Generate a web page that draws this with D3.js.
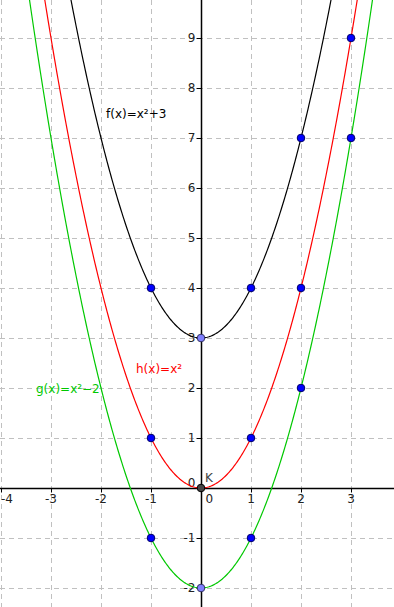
<!DOCTYPE html>
<html>
<head>
<meta charset="utf-8">
<script src="https://cdn.jsdelivr.net/npm/d3@7"></script>
<style>
  body { margin: 0; background: #fff; }
  svg { display: block; font-family: "DejaVu Sans", sans-serif; }
</style>
</head>
<body>
<div id="chart"></div>
<script>
// chart data
var xTicks = [-4, -3, -2, -1, 1, 2, 3];
var yTicks = [-2, -1, 1, 2, 3, 4, 5, 6, 7, 8, 9];
var funcNames = ["f(x)=x\u00b2+3", "h(x)=x\u00b2", "g(x)=x\u00b2\u22122"];
var funcShifts = [3, 0, -2];
var funcColors = ["#000000", "#ff0000", "#00c800"];
// labelled points on the curves
var fPoints = [[-1, 4], [1, 4], [2, 7]];
var hPoints = [[-1, 1], [1, 1], [2, 4], [3, 9]];
var gPoints = [[-1, -1], [1, -1], [2, 2], [3, 7]];
var vertexPoints = [[0, 3], [0, -2]];
var originPoint = [0, 0];
// where the function names sit (graph units)
var labelPos = [[-1.9, 7.4], [-1.3, 2.3], [-3.3, 1.9]];

var svgWidth = 394;
var svgHeight = 607;

var svg = d3.select("#chart")
    .append("svg")
    .attr("width", svgWidth)
    .attr("height", svgHeight);

// 50 px per unit, origin at (201, 488)
var x = d3.scaleLinear()
    .domain([-201 / 50, (svgWidth - 201) / 50])
    .range([0, svgWidth]);
var y = d3.scaleLinear()
    .domain([-(svgHeight - 488) / 50, 488 / 50])
    .range([svgHeight, 0]);

// grid
var grid = svg.append("g")
    .attr("stroke", "#c0c0c0")
    .attr("stroke-width", 1)
    .attr("stroke-dasharray", "5,4");
grid.selectAll("line.vx")
    .data(xTicks.concat([0]))
    .enter()
    .append("line")
    .attr("x1", d => Math.round(x(d)) + 0.5)
    .attr("x2", d => Math.round(x(d)) + 0.5)
    .attr("y1", 0)
    .attr("y2", svgHeight);
grid.selectAll("line.hy")
    .data(yTicks.concat([0]))
    .enter()
    .append("line")
    .attr("y1", d => Math.round(y(d)) + 0.5)
    .attr("y2", d => Math.round(y(d)) + 0.5)
    .attr("x1", 0)
    .attr("x2", svgWidth);

// axes
var x0 = Math.round(x(0)) + 0.5;
var y0 = Math.round(y(0)) + 0.5;
svg.append("line")
    .attr("x1", 0).attr("x2", svgWidth)
    .attr("y1", y0).attr("y2", y0)
    .attr("stroke", "#000").attr("stroke-width", 1.5);
svg.append("line")
    .attr("y1", 0).attr("y2", svgHeight)
    .attr("x1", x0).attr("x2", x0)
    .attr("stroke", "#000").attr("stroke-width", 1.5);

// x ticks + labels
svg.selectAll("line.xt")
    .data(xTicks)
    .enter()
    .append("line")
    .attr("x1", d => Math.round(x(d)) + 0.5)
    .attr("x2", d => Math.round(x(d)) + 0.5)
    .attr("y1", y0)
    .attr("y2", y0 + 4)
    .attr("stroke", "#000");
svg.selectAll("text.xl")
    .data(xTicks)
    .enter()
    .append("text")
    .attr("x", d => Math.max(x(d), 7))
    .attr("y", y0 + 14)
    .attr("text-anchor", "middle")
    .attr("font-size", 12)
    .attr("fill", "#222")
    .text(d => d < 0 ? "-" + Math.abs(d) : d);

// y ticks + labels
svg.selectAll("line.yt")
    .data(yTicks)
    .enter()
    .append("line")
    .attr("y1", d => Math.round(y(d)) + 0.5)
    .attr("y2", d => Math.round(y(d)) + 0.5)
    .attr("x1", x0 - 5)
    .attr("x2", x0)
    .attr("stroke", "#000");
svg.selectAll("text.yl")
    .data(yTicks)
    .enter()
    .append("text")
    .attr("x", x0 - 6)
    .attr("y", d => y(d) + 4)
    .attr("text-anchor", "end")
    .attr("font-size", 12)
    .attr("fill", "#222")
    .text(d => d < 0 ? "-" + Math.abs(d) : d);

// origin labels
svg.append("text")
    .attr("x", x0 - 6).attr("y", y0 - 2)
    .attr("text-anchor", "end")
    .attr("font-size", 12).attr("fill", "#222")
    .text("0");
svg.append("text")
    .attr("x", x0 + 4).attr("y", y0 + 14)
    .attr("font-size", 12).attr("fill", "#222")
    .text("0");

// curves
var samples = d3.range(-4.1, 3.95, 0.02);
var line = d3.line()
    .x(d => x(d[0]))
    .y(d => y(d[1]));
var clip = svg.append("clipPath").attr("id", "plotclip")
    .append("rect")
    .attr("width", svgWidth).attr("height", svgHeight);
funcShifts.forEach(function(c, i) {
    svg.append("path")
        .datum(samples.map(t => [t, t * t + c]))
        .attr("clip-path", "url(#plotclip)")
        .attr("fill", "none")
        .attr("stroke", funcColors[i])
        .attr("stroke-width", 1.2)
        .attr("d", line);
});

// function labels
funcNames.forEach(function(name, i) {
    svg.append("text")
        .attr("x", x(labelPos[i][0]))
        .attr("y", y(labelPos[i][1]))
        .attr("font-size", 12)
        .attr("fill", funcColors[i])
        .text(name);
});

// points
var allPoints = fPoints.concat(hPoints, gPoints);
svg.selectAll("circle.pt")
    .data(allPoints)
    .enter()
    .append("circle")
    .attr("cx", d => x(d[0]))
    .attr("cy", d => y(d[1]))
    .attr("r", 3.8)
    .attr("fill", "#0000ff")
    .attr("stroke", "#000066")
    .attr("stroke-width", 1);
svg.selectAll("circle.vt")
    .data(vertexPoints)
    .enter()
    .append("circle")
    .attr("cx", d => x(d[0]))
    .attr("cy", d => y(d[1]))
    .attr("r", 3.8)
    .attr("fill", "#7f7fff")
    .attr("stroke", "#333366")
    .attr("stroke-width", 1);
svg.append("circle")
    .attr("cx", x(originPoint[0]))
    .attr("cy", y(originPoint[1]))
    .attr("r", 3.8)
    .attr("fill", "#444")
    .attr("stroke", "#000")
    .attr("stroke-width", 1);
svg.append("text")
    .attr("x", x(originPoint[0]) + 4)
    .attr("y", y(originPoint[1]) - 6)
    .attr("font-size", 12)
    .attr("fill", "#444")
    .text("K");
</script>
</body>
</html>
